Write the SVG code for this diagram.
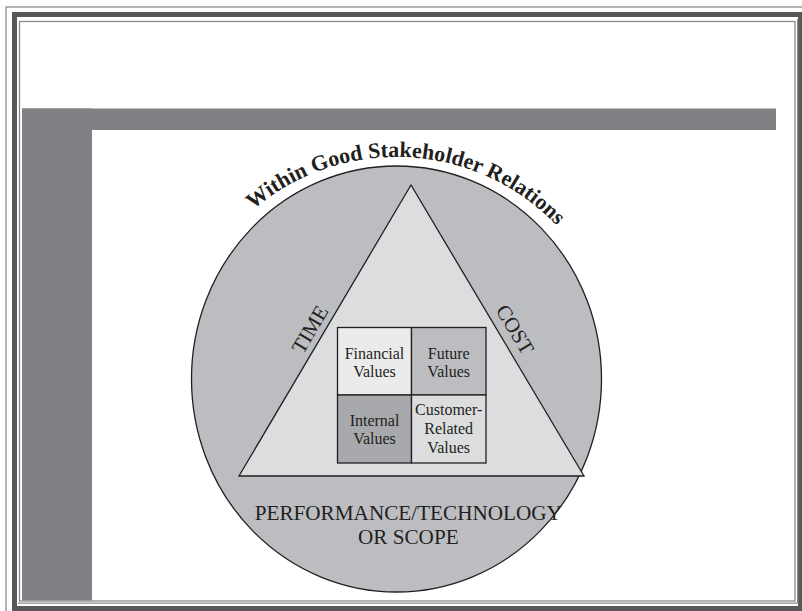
<svg xmlns="http://www.w3.org/2000/svg" width="802" height="611" viewBox="0 0 802 611">
  <defs>
    <style>
      .frame-thin { fill: none; stroke: #8c8c8e; stroke-width: 1.3; }
      .frame-dark { fill: none; stroke: #58585a; stroke-width: 5; }
      .band { fill: #808184; }
      .outline { stroke: #231f20; stroke-width: 1.3; }
      .serif { font-family: "Liberation Serif", "Times New Roman", serif; fill: #231f20; }
      .cell { font-size: 16px; text-anchor: middle; }
      .side { font-size: 21px; text-anchor: middle; }
      .base { font-size: 21.2px; text-anchor: middle; }
      .arc { font-size: 22px; font-weight: bold; }
    </style>
    <path id="arcPath" d="M 204.5 268.5 A 221 221 0 0 1 588.5 268.5" fill="none"/>
  </defs>

  <rect x="0" y="0" width="802" height="611" fill="#ffffff"/>

  <g id="frame">
    <rect class="frame-thin" x="6" y="7" width="810" height="620"/>
    <rect class="frame-dark" x="14.5" y="14.5" width="786" height="594"/>
    <rect class="frame-thin" x="19.5" y="21.5" width="775.5" height="579.5"/>
    <path class="frame-thin" d="M 797.6 19 V 603.2 H 18"/>
    <rect class="band" x="22" y="108.5" width="754" height="21.5"/>
    <rect class="band" x="22" y="108.5" width="70" height="492"/>
  </g>

  <g id="circle">
    <ellipse class="outline" cx="396.5" cy="379" rx="205" ry="213" fill="#bcbdc0"/>
    <text class="serif arc"><textPath href="#arcPath" startOffset="52.5%" text-anchor="middle">Within Good Stakeholder Relations</textPath></text>
  </g>

  <g id="triangle">
    <polygon class="outline" points="411,185 239,476 584,476" fill="#dcdddf"/>
  </g>

  <g id="time-label">
    <text class="serif side" transform="translate(316,333) rotate(-59.4)">TIME</text>
  </g>
  <g id="cost-label">
    <text class="serif side" transform="translate(509,333) rotate(59.4)">COST</text>
  </g>

  <g id="financial-values">
    <rect class="outline" x="337.5" y="327.5" width="74" height="67.5" fill="#ebebec"/>
    <text class="serif cell" x="374.5" y="358.5">Financial</text>
    <text class="serif cell" x="374.5" y="377">Values</text>
  </g>
  <g id="future-values">
    <rect class="outline" x="411.5" y="327.5" width="74.5" height="67.5" fill="#bcbdc0"/>
    <text class="serif cell" x="448.7" y="358.5">Future</text>
    <text class="serif cell" x="448.7" y="377">Values</text>
  </g>
  <g id="internal-values">
    <rect class="outline" x="337.5" y="395" width="74" height="68" fill="#a7a9ac"/>
    <text class="serif cell" x="374.5" y="425.5">Internal</text>
    <text class="serif cell" x="374.5" y="444">Values</text>
  </g>
  <g id="customer-values">
    <rect class="outline" x="411.5" y="395" width="74.5" height="68" fill="#dcdddf"/>
    <text class="serif cell" x="448.7" y="415">Customer-</text>
    <text class="serif cell" x="448.7" y="434">Related</text>
    <text class="serif cell" x="448.7" y="453">Values</text>
  </g>

  <g id="scope-label">
    <text class="serif base" x="408.3" y="519.5">PERFORMANCE/TECHNOLOGY</text>
    <text class="serif base" x="408.3" y="543.5">OR SCOPE</text>
  </g>

  <g id="connectors"></g>
</svg>
